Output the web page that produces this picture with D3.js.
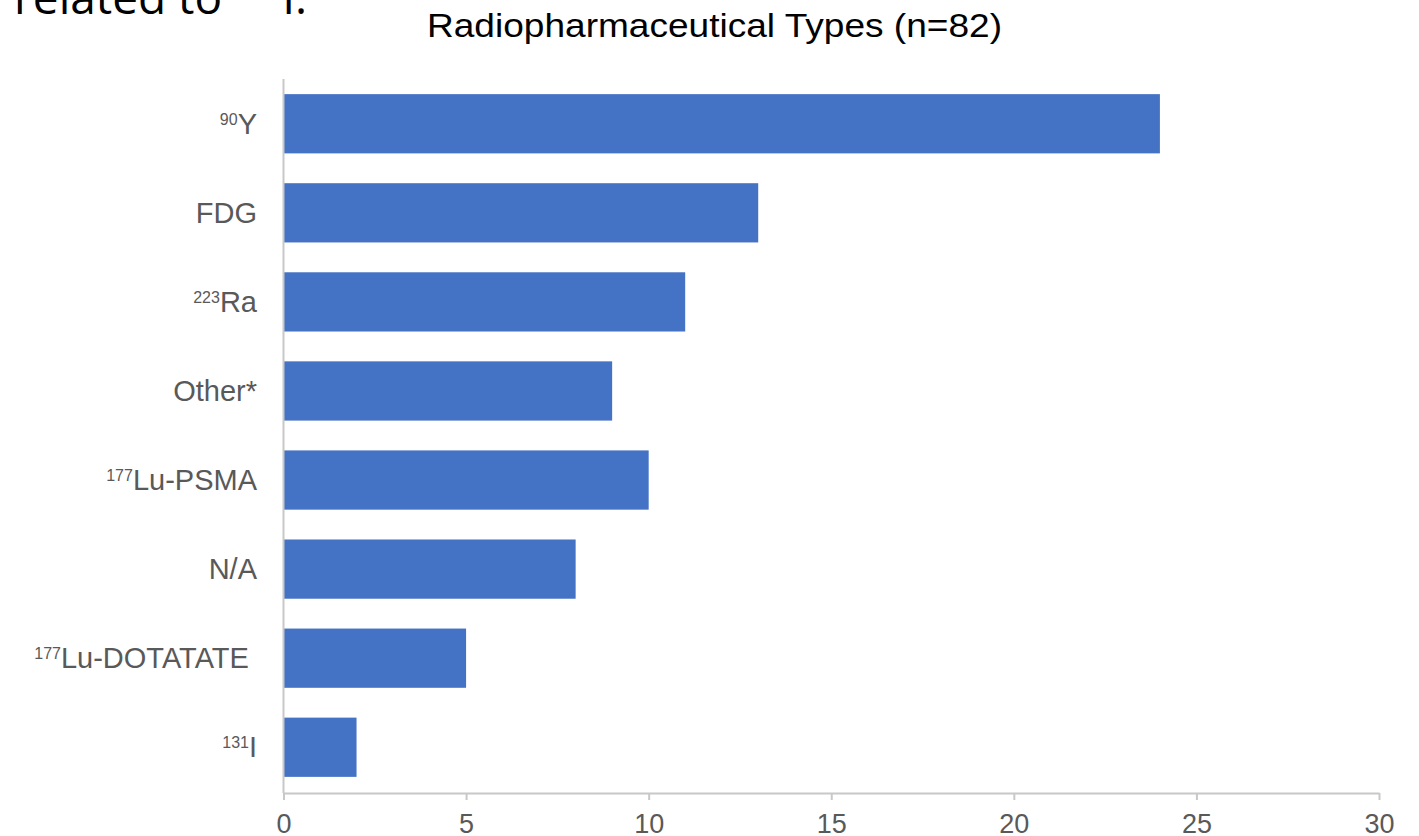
<!DOCTYPE html>
<html>
<head>
<meta charset="utf-8">
<script src="https://cdn.jsdelivr.net/npm/d3@7"></script>
<style>
  html, body { margin: 0; padding: 0; background: #fff; }
  svg { display: block; }
</style>
</head>
<body>
<svg id="chart" width="1419" height="836"></svg>
<script>
// Radiopharmaceutical categories, top to bottom
const massNumbers = ["90", "", "223", "", "177", "", "177", "131"];
const names = ["Y", "FDG", "Ra", "Other*", "Lu-PSMA", "N/A", "Lu-DOTATATE ", "I"];
const counts = [24, 13, 11, 9, 10, 8, 5, 2];
const xTicks = [0, 5, 10, 15, 20, 25, 30];

const rows = names.map((n, i) => ({ key: i, mass: massNumbers[i], name: n, value: counts[i] }));

const svg = d3.select("#chart");
const axisColor = "#c8c8c8";
const textColor = "#595959";
const barColor = "#4472c4";
const sans = "'Liberation Sans', Arial, sans-serif";

const x = d3.scaleLinear().domain([0, 30]).range([283.5, 1379]);
const y = d3.scaleBand().domain(rows.map(d => d.key)).range([79, 792]).paddingInner(0.335).paddingOuter(0.17);

// Heading fragment from the surrounding slide, running off the top edge
const lead = svg.append("text")
  .attr("x", 14).attr("y", 14)
  .attr("font-family", "'Open Sans', sans-serif")
  .attr("font-size", 46)
  .attr("fill", "#000");
lead.append("tspan").text("related to ");
lead.append("tspan").attr("font-size", 28).attr("dy", -18).text("131");
lead.append("tspan").attr("dy", 18).text("I:");

// Chart title
svg.append("text")
  .attr("x", 714.5).attr("y", 37)
  .attr("text-anchor", "middle")
  .attr("font-family", sans)
  .attr("font-size", 34)
  .attr("textLength", 575)
  .attr("lengthAdjust", "spacingAndGlyphs")
  .attr("fill", "#000")
  .text("Radiopharmaceutical Types (n=82)");

// Bars
svg.append("g").selectAll("rect")
  .data(rows)
  .join("rect")
  .attr("x", x(0))
  .attr("y", d => y(d.key))
  .attr("width", d => x(d.value) - x(0))
  .attr("height", y.bandwidth())
  .attr("fill", barColor);

// Vertical category axis line
svg.append("line")
  .attr("x1", x(0)).attr("x2", x(0))
  .attr("y1", 79).attr("y2", 793)
  .attr("stroke", axisColor).attr("stroke-width", 2);

// Category labels with superscript mass numbers
const labels = svg.append("g").selectAll("text")
  .data(rows)
  .join("text")
  .attr("x", 257)
  .attr("y", d => y(d.key) + y.bandwidth() / 2 + 10)
  .attr("text-anchor", "end")
  .attr("font-family", sans)
  .attr("font-size", 29)
  .attr("fill", textColor)
  .style("white-space", "pre");
labels.each(function(d) {
  const t = d3.select(this);
  if (d.mass) {
    t.append("tspan").attr("font-size", 16).attr("dy", -9).text(d.mass);
    t.append("tspan").attr("dy", 9).text(d.name);
  } else {
    t.append("tspan").text(d.name);
  }
});

// Value axis
const xAxis = d3.axisBottom(x).tickValues(xTicks).tickSize(7).tickPadding(14).tickSizeOuter(0);
const gx = svg.append("g").attr("transform", "translate(0,793)").call(xAxis);
gx.select(".domain").attr("stroke", axisColor).attr("stroke-width", 2);
gx.selectAll(".tick line").attr("stroke", axisColor).attr("stroke-width", 2);
gx.selectAll(".tick text")
  .attr("font-family", sans)
  .attr("font-size", 27)
  .attr("fill", textColor);
</script>
</body>
</html>
